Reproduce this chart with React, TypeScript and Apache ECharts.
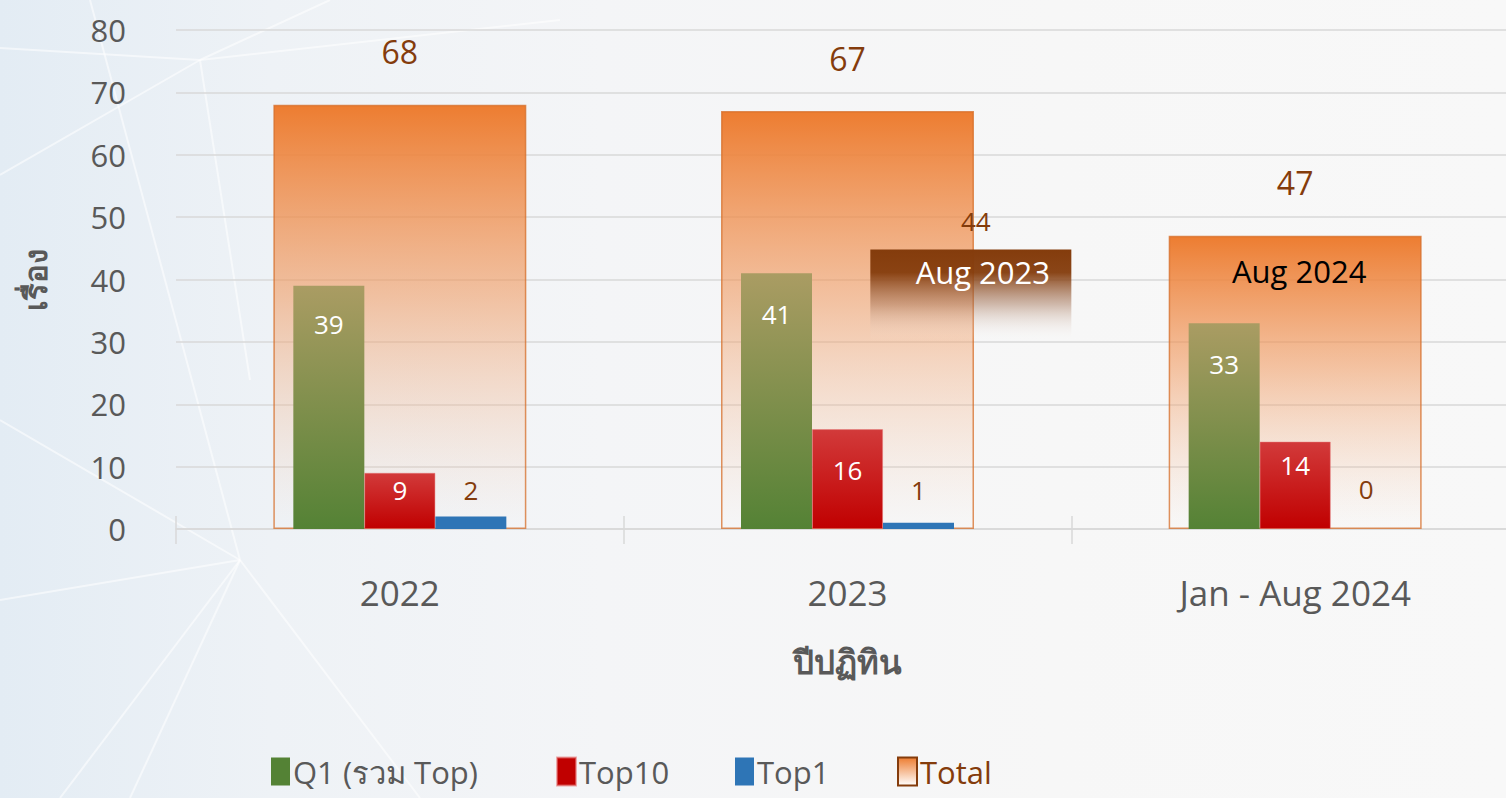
import React, { useEffect, useRef } from 'react';
import * as echarts from 'echarts';

const categories = ['2022', '2023', 'Jan - Aug 2024'];
const q1Values = [39, 41, 33];
const top10Values = [9, 16, 14];
const top1Values = [2, 1, 0];
const totalValues = [68, 67, 47];
const augLabels = ['Aug 2023', 'Aug 2024'];
const augCategoryIdx = [1, 2];
const augValues = [44, 47];
const legendNames = ['Q1 (รวม Top)', 'Top10', 'Top1', 'Total'];
const yMin = 0;
const yMax = 80;
const yInterval = 10;

// label styling (distances in px, not data)
const q1LabelDist = [25, 28, 28];
const top10LabelDist = [4, 28, 10];
const top1LabelDist = [14, 20, 27];
const legendLefts = [271, 556, 735, 897];

const FONT = "'Open Sans', 'Noto Sans', 'DejaVu Sans', sans-serif";
const GRAY = '#595959';
const BROWN = '#843C0C';

export default function App() {
  const ref = useRef<HTMLDivElement>(null);
  useEffect(() => {
    document.body.style.margin = '0';
    const chart = echarts.init(ref.current!, undefined, { renderer: 'svg' });

    const lines = [
      [0, 48, 200, 60],
      [200, 60, 0, 175],
      [200, 60, 330, 0],
      [200, 60, 560, 20],
      [200, 60, 250, 380],
      [0, 420, 240, 560],
      [240, 560, 130, 798],
      [240, 560, 60, 798],
      [240, 560, 420, 798],
      [0, 600, 240, 560],
      [90, 0, 240, 560],
    ];

    const totalGradient = new echarts.graphic.LinearGradient(0, 0, 0, 1, [
      { offset: 0, color: 'rgba(237,125,49,1)' },
      { offset: 0.45, color: 'rgba(240,150,90,0.55)' },
      { offset: 1, color: 'rgba(245,200,170,0)' },
    ]);

    const legendIconStyle: Record<string, any> = {
      'Q1 (รวม Top)': { color: '#548235' },
      Top10: { color: '#C00000' },
      Top1: { color: '#2E75B6' },
      Total: {
        color: new echarts.graphic.LinearGradient(0, 0, 0, 1, [
          { offset: 0, color: '#ED7D31' },
          { offset: 1, color: '#FFFFFF' },
        ]),
        borderColor: BROWN,
        borderWidth: 2,
      },
    };

    chart.setOption({
      animation: false,
      backgroundColor: 'transparent',
      textStyle: { fontFamily: FONT },
      graphic: lines.map((l) => ({
        type: 'line',
        silent: true,
        z: -10,
        shape: { x1: l[0], y1: l[1], x2: l[2], y2: l[3] },
        style: { stroke: 'rgba(255,255,255,0.55)', lineWidth: 2 },
      })),
      grid: { left: 176, right: 0, top: 30, bottom: 269, containLabel: false },
      legend: legendNames.map((name, i) => ({
        left: legendLefts[i],
        top: 756,
        padding: 0,
        itemWidth: 19,
        itemHeight: 28,
        itemGap: 0,
        icon: 'rect',
        selectedMode: false,
        textStyle: {
          fontSize: 31,
          lineHeight: 30,
          color: name === 'Total' ? BROWN : GRAY,
          fontFamily: FONT,
          padding: [0, 0, 0, -2],
        },
        data: [{ name, itemStyle: legendIconStyle[name] }],
      })),
      xAxis: [
        {
          type: 'category',
          data: categories,
          position: 'bottom',
          axisLine: { show: true, lineStyle: { color: '#D9D9D9', width: 1.5 } },
          axisTick: { show: true, length: 15, lineStyle: { color: '#D9D9D9', width: 1.5 } },
          axisLabel: { fontSize: 35, color: GRAY, margin: 46, fontFamily: FONT },
          name: 'ปีปฏิทิน',
          nameLocation: 'middle',
          nameGap: 116,
          nameTextStyle: { fontSize: 33, fontWeight: 'bold', color: GRAY, fontFamily: FONT },
        },
        {
          type: 'category',
          data: categories,
          position: 'bottom',
          axisLine: { show: false },
          axisTick: { show: true, inside: true, length: 13, lineStyle: { color: '#D9D9D9', width: 1.5 } },
          axisLabel: { show: false },
        },
      ],
      yAxis: {
        type: 'value',
        min: yMin,
        max: yMax,
        interval: yInterval,
        axisLine: { show: false },
        axisTick: { show: false },
        splitLine: { lineStyle: { color: '#D9D9D9', width: 1.5 } },
        axisLabel: { fontSize: 31, color: GRAY, margin: 50, fontFamily: FONT },
        name: 'เรื่อง',
        nameLocation: 'middle',
        nameRotate: 90,
        nameGap: 126,
        nameTextStyle: { fontSize: 31, fontWeight: 'bold', color: GRAY, fontFamily: FONT },
      },
      series: [
        {
          name: 'Total',
          type: 'bar',
          xAxisIndex: 0,
          barWidth: 253,
          z: 1,
          data: totalValues,
          itemStyle: {
            color: totalGradient,
            borderColor: 'rgba(214,110,40,0.75)',
            borderWidth: 1.5,
          },
          label: {
            show: true,
            position: 'top',
            distance: 37,
            fontSize: 32,
            color: BROWN,
            fontFamily: FONT,
          },
        },
        {
          name: 'Q1 (รวม Top)',
          type: 'bar',
          xAxisIndex: 1,
          barWidth: 71,
          barGap: '0%',
          z: 3,
          data: q1Values.map((v, i) => ({
            value: v,
            label: { distance: q1LabelDist[i] },
          })),
          itemStyle: {
            color: new echarts.graphic.LinearGradient(0, 0, 0, 1, [
              { offset: 0, color: '#AA9C63' },
              { offset: 1, color: '#548235' },
            ]),
          },
          label: {
            show: true,
            position: 'insideTop',
            fontSize: 26,
            color: '#FFFFFF',
            fontFamily: FONT,
          },
        },
        {
          name: 'Top10',
          type: 'bar',
          xAxisIndex: 1,
          barWidth: 71,
          barGap: '0%',
          z: 3,
          data: top10Values.map((v, i) => ({
            value: v,
            label: { distance: top10LabelDist[i] },
          })),
          itemStyle: {
            color: new echarts.graphic.LinearGradient(0, 0, 0, 1, [
              { offset: 0, color: '#D23A3A' },
              { offset: 1, color: '#C00000' },
            ]),
            borderColor: 'rgba(230,120,120,0.6)',
            borderWidth: 0.8,
          },
          label: {
            show: true,
            position: 'insideTop',
            fontSize: 26,
            color: '#FFFFFF',
            fontFamily: FONT,
          },
        },
        {
          name: 'Top1',
          type: 'bar',
          xAxisIndex: 1,
          barWidth: 71,
          barGap: '0%',
          z: 3,
          data: top1Values.map((v, i) => ({
            value: v,
            label: { distance: top1LabelDist[i] },
          })),
          itemStyle: { color: '#2E75B6' },
          label: {
            show: true,
            position: 'top',
            fontSize: 26,
            color: BROWN,
            fontFamily: FONT,
          },
        },
        {
          name: augLabels[0],
          type: 'custom',
          xAxisIndex: 0,
          z: 5,
          data: [[augCategoryIdx[0], augValues[0]]],
          encode: { x: 0, y: 1 },
          renderItem: (params: any, api: any) => {
            const idx = api.value(0);
            const val = api.value(1);
            const pt = api.coord([idx, val]);
            const band = api.size([1, 0])[0];
            const x0 = pt[0] + band * 0.051;
            const x1 = pt[0] + band * 0.5;
            const top = pt[1] - 5;
            return {
              type: 'group',
              children: [
                {
                  type: 'rect',
                  shape: { x: x0, y: top, width: x1 - x0, height: 92 },
                  style: {
                    fill: new echarts.graphic.LinearGradient(0, 0, 0, 1, [
                      { offset: 0, color: 'rgba(132,60,12,1)' },
                      { offset: 0.25, color: 'rgba(132,60,12,0.95)' },
                      { offset: 0.6, color: 'rgba(160,110,80,0.45)' },
                      { offset: 1, color: 'rgba(255,255,255,0)' },
                    ]),
                  },
                },
                {
                  type: 'text',
                  style: {
                    text: String(val),
                    x: (x0 + x1) / 2 + 5,
                    y: top - 29,
                    align: 'center',
                    verticalAlign: 'middle',
                    fontSize: 26,
                    fill: BROWN,
                    fontFamily: FONT,
                  },
                },
                {
                  type: 'text',
                  style: {
                    text: augLabels[0],
                    x: (x0 + x1) / 2 + 12,
                    y: top + 22,
                    align: 'center',
                    verticalAlign: 'middle',
                    fontSize: 31,
                    fill: '#FFFFFF',
                    fontFamily: FONT,
                  },
                },
              ],
            };
          },
        },
        {
          name: augLabels[1],
          type: 'custom',
          xAxisIndex: 0,
          z: 5,
          data: [[augCategoryIdx[1], augValues[1]]],
          encode: { x: 0, y: 1 },
          renderItem: (params: any, api: any) => {
            const pt = api.coord([api.value(0), api.value(1)]);
            return {
              type: 'text',
              style: {
                text: augLabels[1],
                x: pt[0] + 4,
                y: pt[1] + 35,
                align: 'center',
                verticalAlign: 'middle',
                fontSize: 31,
                fill: '#000000',
                fontFamily: FONT,
              },
            };
          },
        },
      ],
    });
    return () => chart.dispose();
  }, []);

  return (
    <div
      style={{
        position: 'fixed',
        left: 0,
        top: 0,
        width: 1506,
        height: 798,
        overflow: 'hidden',
        background:
          'linear-gradient(90deg, #E3ECF4 0%, #EEF2F6 18%, #F4F5F7 40%, #F7F7F7 70%, #F8F8F8 100%)',
      }}
    >
      <div ref={ref} style={{ position: 'absolute', left: 0, top: 0, width: 1519, height: 798 }} />
    </div>
  );
}
